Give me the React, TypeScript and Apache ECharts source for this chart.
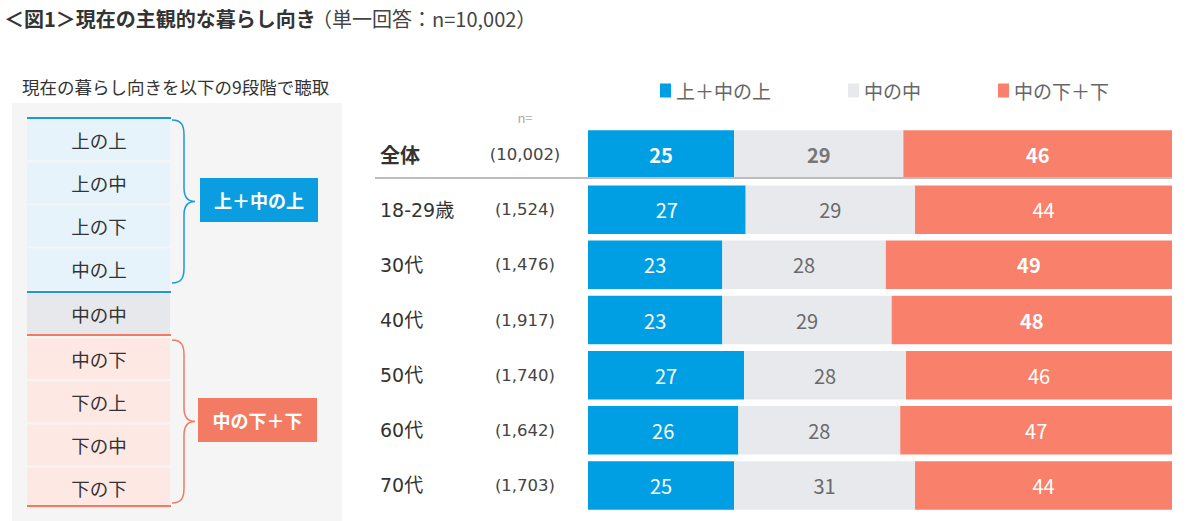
import React, { useEffect, useRef } from "react";
import * as echarts from "echarts";

const categories = ["全体", "18-29歳", "30代", "40代", "50代", "60代", "70代"];
const sampleSizes = ["10,002", "1,524", "1,476", "1,917", "1,740", "1,642", "1,703"];
const upperValues = [25, 27, 23, 23, 27, 26, 25];
const middleValues = [29, 29, 28, 29, 28, 28, 31];
const lowerValues = [46, 44, 49, 48, 46, 47, 44];
const seriesNames = ["上＋中の上", "中の中", "中の下＋下"];
const boldLower = [true, false, true, true, false, false, false];

const scaleLevels = ["上の上", "上の中", "上の下", "中の上", "中の中", "中の下", "下の上", "下の中", "下の下"];
const groupLabels = ["上＋中の上", "中の下＋下"];

const FONT = '"Noto Sans CJK JP", "Noto Sans", sans-serif';
const WFONT = '"DejaVu Sans", "Noto Sans CJK JP", sans-serif';
const BLUE = "#009fe3";
const GRAY = "#e7e9ec";
const RED = "#f9806a";

const bracePath =
  "M0,0 C10,0 12,6 12,15 L12,68 C12,77 16,81.5 23,81.5 C16,81.5 12,86 12,95 L12,148 C12,157 10,163 0,163";
echarts.graphic.registerShape("brace", echarts.graphic.extendPath(bracePath, {}) as any);

export default function App() {
  const ref = useRef<HTMLDivElement>(null);

  useEffect(() => {
    document.body.style.margin = "0";
    const chart = echarts.init(ref.current!, null, { renderer: "svg" });

    const totals = categories.map((_, i) => upperValues[i] + middleValues[i] + lowerValues[i]);
    const norm = (arr: number[]) => arr.map((v, i) => (v / totals[i]) * 100);

    const mkData = (arr: number[], kind: number) =>
      norm(arr).map((v, i) => {
        const bold = i === 0 || (kind === 2 && boldLower[i]);
        return {
          value: v,
          raw: arr[i],
          label: {
            fontWeight: bold ? "bold" : "normal",
            color: kind === 1 ? (i === 0 ? "#777" : "#6a6a6a") : "#fff",
          },
        };
      });

    const levelBoxes: any[] = [];
    const boxTop = 119;
    const pitch = 43.2;
    scaleLevels.forEach((lv, i) => {
      const y = boxTop + i * pitch + (i >= 4 ? 1.5 : 0) + (i >= 5 ? 1.5 : 0);
      const fill = i < 4 ? "#e6f3fb" : i === 4 ? "#e6e8eb" : "#fde8e3";
      levelBoxes.push({
        type: "rect",
        shape: { x: 27, y, width: 143, height: 41 },
        style: { fill },
      });
      levelBoxes.push({
        type: "text",
        x: 99,
        y: y + 20.5,
        style: { text: lv, font: `18.5px ${FONT}`, fill: "#333", align: "center", verticalAlign: "middle" },
      });
    });

    const option: any = {
      animation: false,
      backgroundColor: "#fff",
      graphic: [
        {
          type: "text",
          x: 4,
          y: 18,
          style: {
            text: "＜図1＞現在の主観的な暮らし向き",
            font: `bold 20px ${FONT}`,
            fill: "#333",
            verticalAlign: "middle",
          },
        },
        {
          type: "text",
          x: 312,
          y: 18,
          style: { text: "（単一回答：n=10,002）", font: `20px ${FONT}`, fill: "#444", verticalAlign: "middle" },
        },
        {
          type: "text",
          x: 22,
          y: 86,
          style: { text: "現在の暮らし向きを以下の9段階で聴取", font: `17.5px ${FONT}`, fill: "#333", verticalAlign: "middle" },
        },
        {
          type: "rect",
          shape: { x: 12, y: 103, width: 330, height: 418 },
          style: { fill: "#f5f5f6" },
          z: -10,
        },
        ...levelBoxes,
        { type: "line", shape: { x1: 27, y1: 118, x2: 171, y2: 118 }, style: { stroke: "#1a9ad6", lineWidth: 2 } },
        { type: "line", shape: { x1: 27, y1: 292, x2: 171, y2: 292 }, style: { stroke: "#1a9ad6", lineWidth: 2 } },
        { type: "line", shape: { x1: 27, y1: 335, x2: 171, y2: 335 }, style: { stroke: "#f07a63", lineWidth: 2 } },
        { type: "line", shape: { x1: 27, y1: 506, x2: 171, y2: 506 }, style: { stroke: "#f07a63", lineWidth: 2 } },
        { type: "brace", x: 172, y: 120, style: { stroke: "#1a9ad6", lineWidth: 1.5, fill: null } },
        { type: "brace", x: 172, y: 340, style: { stroke: "#f07a63", lineWidth: 1.5, fill: null } },
        { type: "rect", shape: { x: 200, y: 178, width: 118, height: 44 }, style: { fill: "#0a9ee0" } },
        {
          type: "text",
          x: 259,
          y: 200,
          style: { text: groupLabels[0], font: `bold 18px ${FONT}`, fill: "#fff", align: "center", verticalAlign: "middle" },
        },
        { type: "rect", shape: { x: 198, y: 398, width: 119, height: 44 }, style: { fill: "#f47b63" } },
        {
          type: "text",
          x: 257.5,
          y: 420,
          style: { text: groupLabels[1], font: `bold 18px ${FONT}`, fill: "#fff", align: "center", verticalAlign: "middle" },
        },
        {
          type: "text",
          x: 525,
          y: 117,
          style: { text: "n=", font: `13px ${FONT}`, fill: "#aaa", align: "center", verticalAlign: "middle" },
        },
        { type: "line", shape: { x1: 375, y1: 178, x2: 1172, y2: 178 }, style: { stroke: "#bdbdbd", lineWidth: 2 }, z: 10 },
      ],
      legend: {
        left: 655,
        top: 76,
        itemWidth: 11,
        itemHeight: 14,
        itemGap: 77,
        icon: "rect",
        textStyle: { color: "#666", fontSize: 19, fontFamily: FONT },
        data: seriesNames,
      },
      grid: { left: 588, right: 28, top: 127, bottom: 8, containLabel: false },
      xAxis: { type: "value", min: 0, max: 100, show: false },
      yAxis: {
        type: "category",
        inverse: true,
        data: categories,
        axisLine: { show: false },
        axisTick: { show: false },
        axisLabel: {
          margin: 28,
          formatter: (v: string, i: number) =>
            i === 0 ? `{nb|${v}}{n|(${sampleSizes[i]})}` : `{nm|${v}}{n|(${sampleSizes[i]})}`,
          rich: {
            nb: { width: 110, align: "left", fontSize: 20, fontWeight: "bold", color: "#333", fontFamily: FONT },
            nm: { width: 110, align: "left", fontSize: 19, color: "#333", fontFamily: WFONT },
            n: { width: 70, align: "center", fontSize: 16.5, color: "#444", fontFamily: WFONT },
          },
        },
      },
      series: [upperValues, middleValues, lowerValues].map((arr, k) => ({
        name: seriesNames[k],
        type: "bar",
        stack: "total",
        barCategoryGap: "12%",
        itemStyle: { color: [BLUE, GRAY, RED][k] },
        label: {
          show: true,
          position: "inside",
          fontSize: 20,
          fontFamily: FONT,
          formatter: (p: any) => String(p.data.raw),
        },
        data: mkData(arr, k),
      })),
    };

    chart.setOption(option);
    return () => chart.dispose();
  }, []);

  return <div ref={ref} style={{ width: 1200, height: 521 }} />;
}
